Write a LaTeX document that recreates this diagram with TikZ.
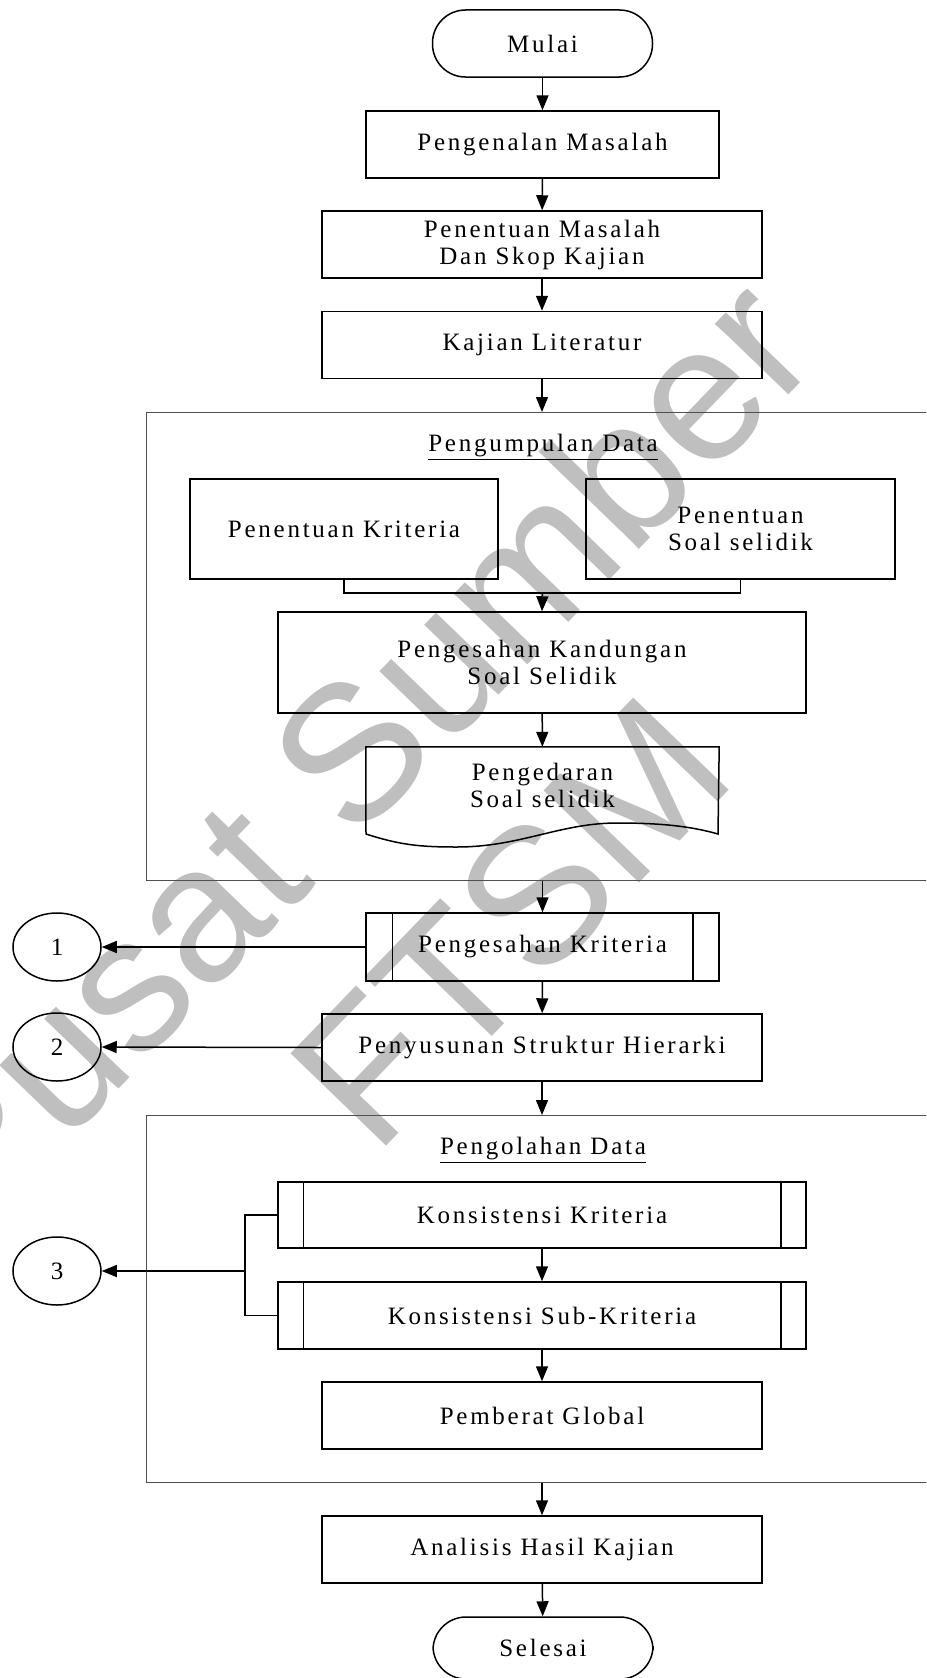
\documentclass[tikz,border=0pt]{standalone}
\usepackage{fontspec}
\setmainfont{Liberation Serif}[LetterSpace=11]
\newfontfamily\wmfont{Liberation Sans}
\usetikzlibrary{arrows.meta,shapes.geometric}
\definecolor{wmgray}{RGB}{191,191,191}
\definecolor{framegray}{RGB}{80,80,80}

\begin{document}
\begin{tikzpicture}[x=1pt,y=-1pt,
  every node/.style={font=\fontsize{25}{27}\selectfont},
  box/.style={draw, line width=1.5pt, inner sep=0pt, align=center,
    minimum width=440pt, minimum height=67pt},
  term/.style={draw, line width=1.5pt, rounded corners=33pt, inner sep=0pt,
    minimum width=220pt, minimum height=67pt},
  conn/.style={draw, ellipse, line width=1.5pt, inner sep=0pt,
    minimum width=88pt, minimum height=68pt},
  group/.style={draw=framegray, line width=1.2pt, inner sep=0pt, anchor=north west},
  title/.style={inner sep=0pt},
  flow/.style={line width=1.5pt, -{Triangle[length=15pt,width=12pt]}},
  link/.style={line width=1.5pt},
  wm/.style={text=wmgray, font=\wmfont\fontsize{193}{200}\selectfont,
    rotate=46, inner sep=0pt}]

\useasboundingbox (0,0) rectangle (926,1678);
\clip (0,0) rectangle (926,1678);

% library stamp behind the chart
\node[wm] (wm1) at (350,750) {Pusat Sumber};
\node[wm] (wm2) at (510,922) {FTSM};

% main column
\node[term] (mulai) at (542.5,43.5) {Mulai};
\node[box, minimum width=353pt] (kenal) at (542.5,144.5) {Pengenalan Masalah};
\node[box] (tentu) at (542,244.5) {Penentuan Masalah\\Dan Skop Kajian};
\node[box] (kajian) at (542,345) {Kajian Literatur};

% data collection group
\node[group, minimum width=794pt, minimum height=468pt] (grp1) at (146,412) {};
\node[title] (t1) at (543,447) {\underline{Pengumpulan Data}};
\node[box, minimum width=308pt, minimum height=100pt] (kri) at (344,529) {Penentuan Kriteria};
\node[box, minimum width=309pt, minimum height=100pt] (soal) at (740.5,529) {Penentuan\\Soal selidik};
\node[box, minimum width=528pt, minimum height=101pt] (kand) at (542,662.5) {Pengesahan Kandungan\\Soal Selidik};
\node[inner sep=0pt, align=center, minimum width=353pt, minimum height=76pt] (edar) at (542.5,785) {Pengedaran\\Soal selidik};
\draw[line width=1.5pt] (edar.north west) -- (edar.north east) -- (718,834)
  .. controls (690,826) and (660,823) .. (617,823)
  .. controls (560,823) and (520,847) .. (457,847)
  .. controls (420,847) and (400,845) .. (366,834) -- cycle;
\coordinate (merge) at (542.5,592);

% validation and hierarchy
\node[box, minimum width=353pt, minimum height=68pt] (sahkri) at (542.5,947) {Pengesahan Kriteria};
\draw[line width=1.5pt] ([xshift=27pt]sahkri.north west) -- ([xshift=27pt]sahkri.south west)
  ([xshift=-27pt]sahkri.north east) -- ([xshift=-27pt]sahkri.south east);
\node[box] (susun) at (542,1047.5) {Penyusunan Struktur Hierarki};
\node[conn] (c1) at (57,947) {1};
\node[conn] (c2) at (57,1047) {2};

% data processing group
\node[group, minimum width=794pt, minimum height=367pt] (grp2) at (146,1115) {};
\node[title] (t2) at (543,1150) {\underline{Pengolahan Data}};
\node[box, minimum width=528pt, minimum height=66pt] (konk) at (542,1215) {Konsistensi Kriteria};
\node[box, minimum width=528pt, minimum height=67pt] (konsk) at (542,1315.5) {Konsistensi Sub-Kriteria};
\foreach \n in {konk,konsk}{
  \draw[line width=1.5pt] ([xshift=26pt]\n.north west) -- ([xshift=26pt]\n.south west)
    ([xshift=-26pt]\n.north east) -- ([xshift=-26pt]\n.south east);
}
\node[box] (berat) at (542,1415.5) {Pemberat Global};
\node[conn] (c3) at (57,1271) {3};
\coordinate (br) at (245,1271);

% results
\node[box] (anal) at (542,1549.5) {Analisis Hasil Kajian};
\node[term, minimum height=62pt] (selesai) at (543,1648) {Selesai};

% connectors
\draw[flow] (mulai) -- (kenal);
\draw[flow] (kenal) -- (tentu);
\draw[flow] (tentu) -- (kajian);
\draw[flow] (kajian.south) -- (kajian.south |- grp1.north);
\draw[link] (kri.south) -- ++(0,13) -| (soal.south);
\draw[flow] (merge) -- (kand.north);
\draw[flow] (kand) -- (edar);
\draw[flow] (grp1.south -| sahkri.north) -- (sahkri.north);
\draw[flow] (sahkri.west) -- (c1.east);
\draw[flow] (sahkri) -- (susun);
\draw[flow] (susun.west) -- (c2.east);
\draw[flow] (susun.south) -- (susun.south |- grp2.north);
\draw[link] (konk.west) -| (br) |- (konsk.west);
\draw[flow] (br) -- (c3.east);
\draw[flow] (konk) -- (konsk);
\draw[flow] (konsk) -- (berat);
\draw[flow] (grp2.south -| anal.north) -- (anal.north);
\draw[flow] (anal) -- (selesai);
\end{tikzpicture}
\end{document}
